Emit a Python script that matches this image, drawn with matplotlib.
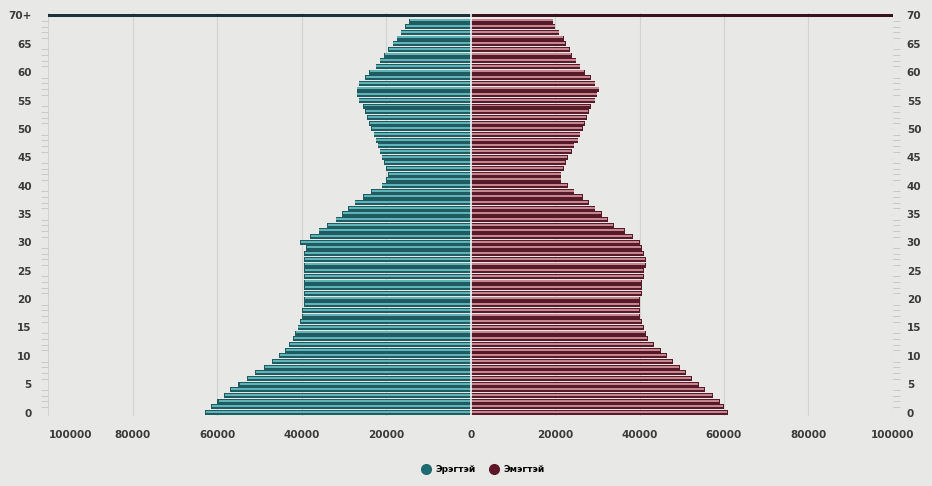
import matplotlib
matplotlib.use("Agg")
import matplotlib.pyplot as plt
import numpy as np

# ---- data ----
ages = list(range(0, 71))  # 70 means "70+"
male = [63000, 61500, 60000, 58500, 57000, 55000, 53000, 51000, 49000, 47000,
        45500, 44000, 43000, 42000, 41500, 41000, 40500, 40000, 40000, 39500,
        39500, 39500, 39500, 39500, 39500, 39500, 39500, 39500, 39500, 39000,
        40500, 38000, 36000, 34000, 32000, 30500, 29000, 27500, 25500, 23500,
        21000, 20000, 19500, 20000, 20500, 21000, 21500, 22000, 22500, 23000,
        23500, 24000, 24500, 25000, 25500, 26500, 27000, 27000, 26500, 25000,
        24000, 22500, 21500, 20500, 19500, 18500, 17500, 16500, 15500, 14500,
        120000]
female = [61000, 60000, 59000, 57500, 55500, 54000, 52500, 51000, 49500, 48000,
          46500, 45000, 43500, 42000, 41500, 41000, 40500, 40000, 40000, 40000,
          40000, 40500, 40500, 40500, 41000, 41000, 41500, 41500, 41000, 40500,
          40000, 38500, 36500, 34000, 32500, 31000, 29500, 28000, 26500, 24500,
          23000, 21500, 21500, 22000, 22500, 23000, 24000, 24500, 25500, 26000,
          26500, 27000, 27500, 28000, 28500, 29500, 30000, 30500, 29500, 28500,
          27000, 26000, 25000, 24000, 23500, 22500, 22000, 21000, 20000, 19500,
          120000]
left_ticks = [0, 5, 10, 15, 20, 25, 30, 35, 40, 45, 50, 55, 60, 65, 70]
left_labels = ["0", "5", "10", "15", "20", "25", "30", "35", "40", "45", "50",
               "55", "60", "65", "70+"]
right_labels = ["0", "5", "10", "15", "20", "25", "30", "35", "40", "45", "50",
                "55", "60", "65", "70"]
x_ticks = [-100000, -80000, -60000, -40000, -20000, 0, 20000, 40000, 60000, 80000, 100000]
x_labels = ["100000", "80000", "60000", "40000", "20000", "0", "20000", "40000",
            "60000", "80000", "100000"]
series_names = ["Эрэгтэй", "Эмэгтэй"]

# ---- style ----
bg = "#e8e9e6"
m_dark, m_light, m_top = "#1f5b61", "#5fb4b8", "#1b3336"
f_dark, f_light, f_top = "#571a29", "#c6868f", "#3a121c"
txt = "#3a3a3a"

fig = plt.figure(figsize=(9.32, 4.86), dpi=100, facecolor=bg)
ax = fig.add_axes([0.052, 0.144, 0.906, 0.829], facecolor=bg)

y = np.array(ages)
mv = -np.array(male, dtype=float)
fv = np.array(female, dtype=float)
main = y < 70
top = y == 70

# regular bars: dark base + light highlight stripe
ax.barh(y[main], mv[main], height=0.9, color=m_dark, linewidth=0, zorder=3)
ax.barh(y[main] + 0.12, mv[main] * 0.995, height=0.35, color=m_light, linewidth=0, zorder=4)
ax.barh(y[main], fv[main], height=0.9, color=f_dark, linewidth=0, zorder=3)
ax.barh(y[main] + 0.12, fv[main] * 0.995, height=0.35, color=f_light, linewidth=0, zorder=4)
# 70+ bar
ax.barh(y[top], mv[top], height=0.65, color=m_top, linewidth=0, zorder=3)
ax.barh(y[top], fv[top], height=0.6, color=f_top, linewidth=0, zorder=3)

# white center separator
ax.axvline(0, color="#f4f4f4", lw=1.2, zorder=5)

ax.set_xlim(-100000, 100000)
ax.set_ylim(-0.6, 70.4)
ax.set_xticks(x_ticks)
ax.set_xticklabels(x_labels)
ax.xaxis.grid(True, color="#d2d3d0", lw=0.8, zorder=0)
ax.set_axisbelow(True)
ax.tick_params(axis="x", length=0, pad=10, labelsize=7.5, labelcolor=txt)

ax.set_yticks(left_ticks)
ax.set_yticklabels(left_labels)
ax.set_yticks(ages, minor=True)
ax.tick_params(axis="y", which="major", length=0, pad=12, labelsize=7.5, labelcolor=txt)
ax.tick_params(axis="y", which="minor", length=5, width=0.6, color="#c4c5c2", direction="out")
for lab in ax.get_xticklabels() + ax.get_yticklabels():
    lab.set_fontweight("bold")
ax.get_xticklabels()[0].set_horizontalalignment("left")

sec = ax.secondary_yaxis("right")
sec.set_yticks(left_ticks)
sec.set_yticklabels(right_labels)
sec.set_yticks(ages, minor=True)
sec.tick_params(axis="y", which="major", length=0, pad=10, labelsize=7.5, labelcolor=txt)
sec.tick_params(axis="y", which="minor", length=5, width=0.6, color="#c4c5c2", direction="out")
for lab in sec.get_yticklabels():
    lab.set_fontweight("bold")
sec.spines["right"].set_visible(False)

for s in ax.spines.values():
    s.set_visible(False)

# legend
h1 = plt.Line2D([], [], marker="o", ls="", color="#1e6a70", markersize=7)
h2 = plt.Line2D([], [], marker="o", ls="", color="#5e1626", markersize=7)
fig.legend([h1, h2], series_names, loc="center", bbox_to_anchor=(0.516, 0.033),
           ncol=2, frameon=False, handletextpad=0.1, columnspacing=1.0,
           prop={"weight": "bold", "size": 6.5})

fig.savefig("out.png", dpi=100, facecolor=bg)
